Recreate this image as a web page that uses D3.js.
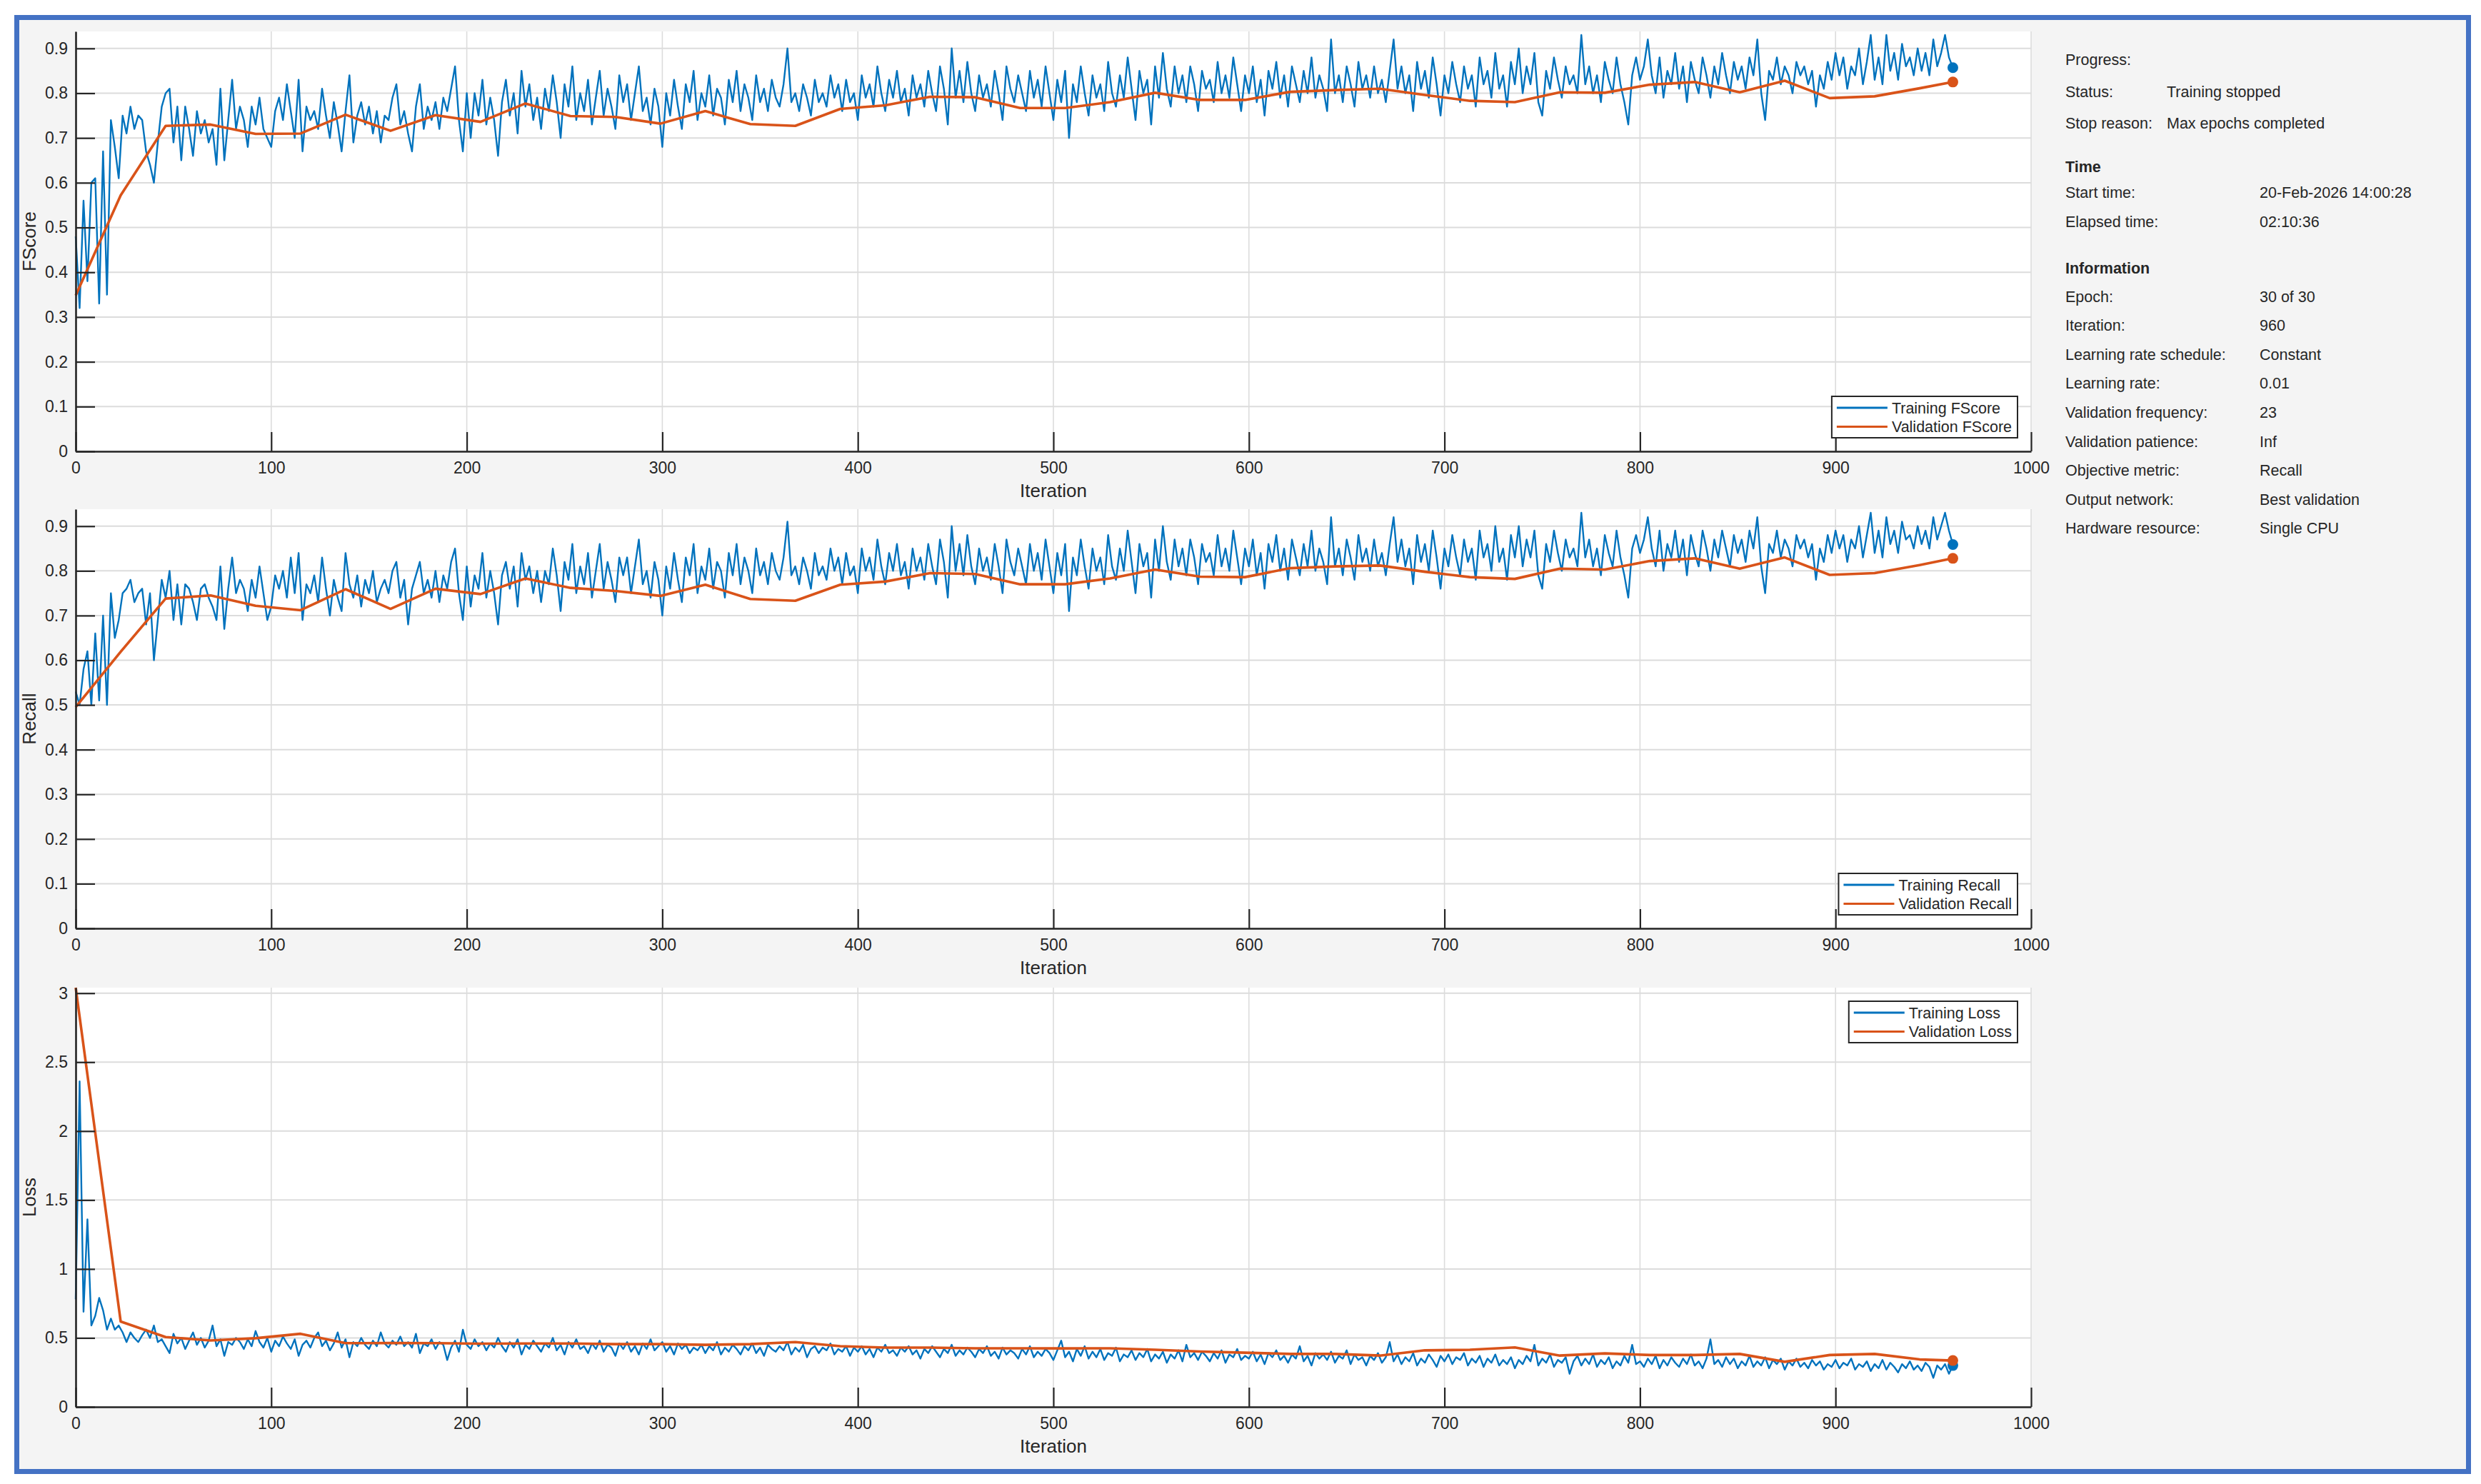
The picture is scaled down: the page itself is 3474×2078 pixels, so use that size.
<!DOCTYPE html>
<html>
<head>
<meta charset="utf-8">
<script src="https://cdn.jsdelivr.net/npm/d3@7"></script>
<style>
  body { margin: 0; background: #ffffff; }
  svg text { font-family: "Liberation Sans", Arial, sans-serif; fill: #262626; }
</style>
</head>
<body>
<script>

// ---- data (read off the training monitor) ----
// training values logged every TRAIN_STEP iterations, starting at iteration 0
var TRAIN_STEP = 2;
var VAL_FREQ = 23;
var LAST_ITER = 960;

var trainFScore = [
  0.48, 0.32, 0.56, 0.38, 0.60, 0.61, 0.33, 0.67, 0.35, 0.74,
  0.68, 0.61, 0.75, 0.71, 0.77, 0.72, 0.75, 0.74, 0.67, 0.64,
  0.60, 0.69, 0.77, 0.80, 0.81, 0.69, 0.77, 0.65, 0.77, 0.72,
  0.66, 0.76, 0.71, 0.74, 0.69, 0.72, 0.64, 0.81, 0.65, 0.74,
  0.83, 0.72, 0.77, 0.74, 0.68, 0.77, 0.73, 0.79, 0.72, 0.70,
  0.68, 0.76, 0.79, 0.74, 0.82, 0.76, 0.70, 0.83, 0.67, 0.77,
  0.74, 0.76, 0.72, 0.81, 0.75, 0.70, 0.78, 0.73, 0.67, 0.76,
  0.84, 0.69, 0.75, 0.78, 0.73, 0.77, 0.71, 0.76, 0.69, 0.75,
  0.74, 0.79, 0.82, 0.73, 0.76, 0.71, 0.67, 0.77, 0.82, 0.72,
  0.77, 0.74, 0.78, 0.72, 0.79, 0.76, 0.81, 0.86, 0.74, 0.67,
  0.80, 0.70, 0.80, 0.75, 0.83, 0.73, 0.79, 0.74, 0.66, 0.78,
  0.83, 0.75, 0.80, 0.71, 0.85, 0.77, 0.82, 0.74, 0.79, 0.72,
  0.81, 0.76, 0.84, 0.78, 0.70, 0.82, 0.77, 0.86, 0.74, 0.80,
  0.76, 0.83, 0.73, 0.79, 0.85, 0.75, 0.81, 0.77, 0.72, 0.84,
  0.78, 0.82, 0.74, 0.80, 0.86, 0.76, 0.79, 0.73, 0.81, 0.77,
  0.68, 0.80, 0.75, 0.83, 0.77, 0.72, 0.82, 0.78, 0.85, 0.74,
  0.80, 0.77, 0.84, 0.75, 0.81, 0.79, 0.73, 0.83, 0.78, 0.85,
  0.76, 0.82, 0.79, 0.74, 0.84, 0.78, 0.81, 0.76, 0.83, 0.79,
  0.77, 0.82, 0.90, 0.78, 0.80, 0.76, 0.82, 0.79, 0.75, 0.83,
  0.78, 0.80, 0.77, 0.84, 0.79, 0.82, 0.76, 0.83, 0.78, 0.80,
  0.74, 0.84, 0.79, 0.82, 0.77, 0.86, 0.80, 0.76, 0.83, 0.79,
  0.85, 0.78, 0.81, 0.75, 0.84, 0.79, 0.82, 0.77, 0.85, 0.80,
  0.76, 0.86, 0.81, 0.73, 0.90, 0.79, 0.85, 0.78, 0.87, 0.80,
  0.76, 0.84, 0.79, 0.82, 0.77, 0.85, 0.80, 0.74, 0.86, 0.81,
  0.78, 0.84, 0.80, 0.76, 0.85, 0.79, 0.83, 0.77, 0.86, 0.80,
  0.74, 0.83, 0.78, 0.85, 0.70, 0.82, 0.78, 0.86, 0.80, 0.75,
  0.84, 0.79, 0.82, 0.76, 0.87, 0.80, 0.77, 0.84, 0.79, 0.88,
  0.81, 0.74, 0.85, 0.80, 0.83, 0.73, 0.86, 0.79, 0.89, 0.81,
  0.77, 0.86, 0.80, 0.84, 0.78, 0.86, 0.82, 0.76, 0.85, 0.81,
  0.83, 0.78, 0.87, 0.80, 0.84, 0.79, 0.88, 0.82, 0.76, 0.84,
  0.80, 0.86, 0.78, 0.83, 0.75, 0.85, 0.81, 0.87, 0.79, 0.84,
  0.77, 0.86, 0.82, 0.78, 0.85, 0.80, 0.88, 0.79, 0.84, 0.81,
  0.76, 0.92, 0.80, 0.84, 0.78, 0.86, 0.82, 0.77, 0.87, 0.81,
  0.84, 0.79, 0.86, 0.80, 0.83, 0.78, 0.85, 0.92, 0.81, 0.86,
  0.80, 0.84, 0.76, 0.87, 0.81, 0.85, 0.79, 0.88, 0.82, 0.75,
  0.84, 0.80, 0.87, 0.82, 0.78, 0.86, 0.81, 0.84, 0.77, 0.88,
  0.82, 0.85, 0.79, 0.89, 0.81, 0.84, 0.77, 0.87, 0.82, 0.90,
  0.80, 0.86, 0.82, 0.89, 0.78, 0.75, 0.85, 0.81, 0.88, 0.83,
  0.79, 0.86, 0.82, 0.84, 0.80, 0.93, 0.82, 0.86, 0.80, 0.84,
  0.78, 0.87, 0.83, 0.80, 0.88, 0.82, 0.78, 0.73, 0.84, 0.88,
  0.83, 0.86, 0.92, 0.84, 0.80, 0.88, 0.79, 0.85, 0.82, 0.89,
  0.81, 0.86, 0.78, 0.87, 0.83, 0.80, 0.88, 0.84, 0.79, 0.86,
  0.82, 0.89, 0.84, 0.80, 0.87, 0.83, 0.86, 0.81, 0.88, 0.84,
  0.92, 0.80, 0.74, 0.85, 0.83, 0.88, 0.82, 0.86, 0.84, 0.80,
  0.87, 0.84, 0.86, 0.82, 0.85, 0.77, 0.84, 0.81, 0.87, 0.83,
  0.89, 0.84, 0.88, 0.81, 0.86, 0.84, 0.90, 0.82, 0.87, 0.93,
  0.83, 0.88, 0.82, 0.93, 0.85, 0.89, 0.83, 0.91, 0.86, 0.88,
  0.84, 0.90, 0.85, 0.89, 0.84, 0.92, 0.86, 0.89, 0.93, 0.88, 0.857
];

var trainRecall = [
  0.53, 0.50, 0.58, 0.62, 0.50, 0.66, 0.51, 0.70, 0.50, 0.75,
  0.65, 0.69, 0.75, 0.76, 0.78, 0.73, 0.75, 0.76, 0.68, 0.75,
  0.60, 0.69, 0.78, 0.74, 0.80, 0.69, 0.77, 0.68, 0.77, 0.76,
  0.73, 0.69, 0.76, 0.77, 0.74, 0.72, 0.69, 0.81, 0.67, 0.76,
  0.83, 0.75, 0.78, 0.76, 0.71, 0.78, 0.74, 0.81, 0.75, 0.69,
  0.72, 0.79, 0.76, 0.80, 0.74, 0.83, 0.75, 0.84, 0.69, 0.77,
  0.75, 0.79, 0.73, 0.83, 0.76, 0.70, 0.78, 0.74, 0.71, 0.84,
  0.77, 0.74, 0.79, 0.72, 0.78, 0.75, 0.80, 0.73, 0.76, 0.78,
  0.75, 0.80, 0.82, 0.74, 0.78, 0.68, 0.76, 0.79, 0.82, 0.75,
  0.78, 0.74, 0.80, 0.73, 0.79, 0.76, 0.82, 0.85, 0.75, 0.69,
  0.81, 0.72, 0.79, 0.76, 0.84, 0.74, 0.80, 0.75, 0.68, 0.79,
  0.82, 0.76, 0.81, 0.72, 0.84, 0.78, 0.81, 0.75, 0.80, 0.73,
  0.80, 0.77, 0.85, 0.79, 0.71, 0.82, 0.78, 0.86, 0.75, 0.81,
  0.77, 0.84, 0.74, 0.80, 0.86, 0.76, 0.82, 0.78, 0.73, 0.83,
  0.79, 0.83, 0.75, 0.81, 0.87, 0.77, 0.80, 0.74, 0.82, 0.78,
  0.70, 0.81, 0.76, 0.84, 0.78, 0.73, 0.83, 0.79, 0.86, 0.75,
  0.81, 0.78, 0.85, 0.76, 0.82, 0.80, 0.74, 0.84, 0.79, 0.86,
  0.77, 0.83, 0.80, 0.75, 0.85, 0.79, 0.82, 0.77, 0.84, 0.80,
  0.78, 0.83, 0.91, 0.79, 0.81, 0.77, 0.83, 0.80, 0.76, 0.84,
  0.79, 0.81, 0.78, 0.85, 0.80, 0.83, 0.77, 0.84, 0.79, 0.81,
  0.75, 0.85, 0.80, 0.83, 0.78, 0.87, 0.81, 0.77, 0.84, 0.80,
  0.86, 0.79, 0.82, 0.76, 0.85, 0.80, 0.83, 0.78, 0.86, 0.81,
  0.77, 0.87, 0.82, 0.74, 0.90, 0.80, 0.86, 0.79, 0.88, 0.81,
  0.77, 0.85, 0.80, 0.83, 0.78, 0.86, 0.81, 0.75, 0.87, 0.82,
  0.79, 0.85, 0.81, 0.77, 0.86, 0.80, 0.84, 0.78, 0.87, 0.81,
  0.75, 0.84, 0.79, 0.86, 0.71, 0.83, 0.79, 0.87, 0.81, 0.76,
  0.85, 0.80, 0.83, 0.77, 0.88, 0.81, 0.78, 0.85, 0.80, 0.89,
  0.82, 0.75, 0.86, 0.81, 0.84, 0.74, 0.87, 0.80, 0.90, 0.82,
  0.78, 0.87, 0.81, 0.85, 0.79, 0.87, 0.83, 0.77, 0.86, 0.82,
  0.84, 0.79, 0.88, 0.81, 0.85, 0.80, 0.89, 0.83, 0.77, 0.85,
  0.81, 0.87, 0.79, 0.84, 0.76, 0.86, 0.82, 0.88, 0.80, 0.85,
  0.78, 0.87, 0.83, 0.79, 0.86, 0.81, 0.89, 0.80, 0.85, 0.82,
  0.77, 0.92, 0.81, 0.85, 0.79, 0.87, 0.83, 0.78, 0.88, 0.82,
  0.85, 0.80, 0.87, 0.81, 0.84, 0.79, 0.86, 0.92, 0.82, 0.87,
  0.81, 0.85, 0.77, 0.88, 0.82, 0.86, 0.80, 0.89, 0.83, 0.76,
  0.85, 0.81, 0.88, 0.83, 0.79, 0.87, 0.82, 0.85, 0.78, 0.89,
  0.83, 0.86, 0.80, 0.90, 0.82, 0.85, 0.78, 0.88, 0.83, 0.90,
  0.81, 0.87, 0.83, 0.89, 0.79, 0.76, 0.86, 0.82, 0.89, 0.84,
  0.80, 0.87, 0.83, 0.85, 0.81, 0.93, 0.83, 0.87, 0.81, 0.85,
  0.79, 0.88, 0.84, 0.81, 0.89, 0.83, 0.79, 0.74, 0.85, 0.88,
  0.84, 0.87, 0.92, 0.85, 0.81, 0.89, 0.80, 0.86, 0.83, 0.89,
  0.82, 0.87, 0.79, 0.88, 0.84, 0.81, 0.89, 0.85, 0.80, 0.87,
  0.83, 0.89, 0.85, 0.81, 0.88, 0.84, 0.87, 0.82, 0.89, 0.85,
  0.92, 0.81, 0.75, 0.86, 0.84, 0.89, 0.83, 0.87, 0.85, 0.81,
  0.88, 0.85, 0.87, 0.83, 0.86, 0.78, 0.85, 0.82, 0.88, 0.84,
  0.89, 0.85, 0.88, 0.82, 0.87, 0.85, 0.90, 0.83, 0.88, 0.93,
  0.84, 0.89, 0.83, 0.92, 0.86, 0.89, 0.84, 0.91, 0.87, 0.88,
  0.85, 0.90, 0.86, 0.89, 0.85, 0.92, 0.87, 0.90, 0.93, 0.89, 0.859
];

var trainLoss = [
  0.78, 2.36, 0.69, 1.36, 0.59, 0.66, 0.79, 0.70, 0.56, 0.64,
  0.56, 0.59, 0.54, 0.47, 0.54, 0.50, 0.47, 0.52, 0.56, 0.50,
  0.59, 0.47, 0.49, 0.44, 0.39, 0.53, 0.46, 0.50, 0.42, 0.48,
  0.54, 0.45, 0.50, 0.43, 0.48, 0.59, 0.44, 0.49, 0.37, 0.47,
  0.45, 0.50, 0.47, 0.42, 0.49, 0.44, 0.55, 0.47, 0.43, 0.50,
  0.40, 0.48, 0.44, 0.51, 0.46, 0.42, 0.49, 0.37, 0.45, 0.48,
  0.43, 0.50, 0.54, 0.44, 0.48, 0.41, 0.46, 0.54, 0.43, 0.49,
  0.36, 0.47, 0.44, 0.50, 0.45, 0.42, 0.48, 0.44, 0.54, 0.46,
  0.43, 0.48, 0.45, 0.51, 0.44, 0.47, 0.43, 0.53, 0.39, 0.46,
  0.44, 0.49, 0.42, 0.47, 0.45, 0.34, 0.43, 0.48, 0.40, 0.56,
  0.45, 0.42, 0.49, 0.44, 0.47, 0.41, 0.46, 0.43, 0.50, 0.44,
  0.40, 0.47, 0.43, 0.49, 0.38, 0.45, 0.42, 0.48, 0.44, 0.40,
  0.46, 0.43, 0.50, 0.41, 0.45, 0.38, 0.47, 0.43, 0.49, 0.42,
  0.44, 0.39, 0.46, 0.42, 0.48, 0.40, 0.45, 0.43, 0.37, 0.46,
  0.42, 0.47, 0.40, 0.44, 0.38, 0.46, 0.42, 0.49, 0.41, 0.44,
  0.47, 0.40, 0.44, 0.38, 0.46, 0.42, 0.45, 0.39, 0.43, 0.41,
  0.45, 0.39, 0.44, 0.41, 0.47, 0.38, 0.43, 0.40, 0.45, 0.42,
  0.38, 0.44, 0.41, 0.46, 0.39, 0.43, 0.37, 0.45, 0.42, 0.40,
  0.44, 0.41, 0.47, 0.38, 0.43, 0.40, 0.45, 0.36, 0.42, 0.44,
  0.39, 0.43, 0.41, 0.46, 0.38, 0.42, 0.40, 0.44, 0.37, 0.43,
  0.40, 0.44, 0.38, 0.42, 0.36, 0.43, 0.40, 0.45, 0.39, 0.41,
  0.37, 0.43, 0.40, 0.44, 0.38, 0.41, 0.35, 0.42, 0.39, 0.44,
  0.40, 0.36, 0.42, 0.39, 0.45, 0.37, 0.41, 0.38, 0.43, 0.40,
  0.36, 0.42, 0.39, 0.44, 0.37, 0.40, 0.35, 0.43, 0.38, 0.41,
  0.39, 0.35, 0.42, 0.38, 0.44, 0.36, 0.40, 0.37, 0.42, 0.39,
  0.34, 0.41, 0.48, 0.36, 0.40, 0.33, 0.42, 0.37, 0.44, 0.35,
  0.40, 0.36, 0.42, 0.34, 0.39, 0.37, 0.43, 0.33, 0.38, 0.36,
  0.41, 0.34, 0.39, 0.36, 0.42, 0.33, 0.38, 0.35, 0.40, 0.32,
  0.38, 0.35, 0.41, 0.33, 0.45, 0.36, 0.39, 0.34, 0.40, 0.37,
  0.33, 0.39, 0.35, 0.41, 0.32, 0.38, 0.36, 0.42, 0.34, 0.37,
  0.35, 0.40, 0.33, 0.38, 0.31, 0.39, 0.36, 0.41, 0.34, 0.37,
  0.32, 0.38, 0.35, 0.44, 0.33, 0.37, 0.30, 0.39, 0.35, 0.38,
  0.34, 0.40, 0.32, 0.37, 0.35, 0.41, 0.31, 0.38, 0.34, 0.36,
  0.30, 0.37, 0.34, 0.39, 0.32, 0.36, 0.47, 0.33, 0.38, 0.31,
  0.36, 0.33, 0.39, 0.30, 0.35, 0.32, 0.38, 0.34, 0.29, 0.37,
  0.33, 0.38, 0.31, 0.36, 0.34, 0.39, 0.30, 0.35, 0.32, 0.37,
  0.29, 0.35, 0.32, 0.38, 0.30, 0.34, 0.31, 0.36, 0.28, 0.34,
  0.31, 0.37, 0.33, 0.45, 0.30, 0.35, 0.32, 0.38, 0.29, 0.34,
  0.32, 0.36, 0.24, 0.33, 0.37, 0.30, 0.35, 0.31, 0.38, 0.29,
  0.34, 0.31, 0.36, 0.28, 0.33, 0.30, 0.37, 0.32, 0.45, 0.31,
  0.33, 0.29, 0.35, 0.31, 0.37, 0.28, 0.34, 0.30, 0.36, 0.32,
  0.29, 0.35, 0.31, 0.38, 0.30, 0.33, 0.28, 0.35, 0.49, 0.31,
  0.34, 0.29, 0.36, 0.31, 0.35, 0.28, 0.33, 0.30, 0.37, 0.29,
  0.33, 0.30, 0.36, 0.28, 0.34, 0.31, 0.35, 0.27, 0.33, 0.30,
  0.35, 0.29, 0.32, 0.28, 0.34, 0.30, 0.33, 0.27, 0.31, 0.29,
  0.34, 0.28, 0.32, 0.30, 0.35, 0.27, 0.31, 0.29, 0.33, 0.26,
  0.31, 0.28, 0.34, 0.27, 0.32, 0.29, 0.25, 0.31, 0.28, 0.33,
  0.27, 0.30, 0.26, 0.32, 0.29, 0.21, 0.30, 0.27, 0.31, 0.24, 0.30
];

// validation points at iterations 0, 23, 46, ... 943, then the final iteration 960
var valFScore = [
  0.348, 0.572, 0.727, 0.730, 0.709, 0.710, 0.752, 0.716, 0.751, 0.736,
  0.777, 0.749, 0.747, 0.732, 0.760, 0.731, 0.727, 0.765, 0.773, 0.792,
  0.791, 0.767, 0.767, 0.780, 0.801, 0.785, 0.785, 0.803, 0.807, 0.810,
  0.796, 0.783, 0.780, 0.802, 0.801, 0.819, 0.825, 0.802, 0.828, 0.789,
  0.793, 0.811, 0.825
];
var valRecall = [
  0.495, 0.619, 0.738, 0.745, 0.722, 0.712, 0.759, 0.715, 0.760, 0.748,
  0.783, 0.762, 0.755, 0.744, 0.769, 0.737, 0.733, 0.769, 0.776, 0.795,
  0.793, 0.770, 0.770, 0.783, 0.803, 0.787, 0.786, 0.806, 0.810, 0.812,
  0.798, 0.786, 0.782, 0.805, 0.803, 0.822, 0.828, 0.805, 0.830, 0.791,
  0.795, 0.813, 0.828
];
var valLoss = [
  3.04, 0.619, 0.506, 0.482, 0.498, 0.530, 0.462, 0.463, 0.462, 0.458,
  0.460, 0.460, 0.455, 0.455, 0.450, 0.455, 0.470, 0.440, 0.430, 0.430,
  0.425, 0.425, 0.424, 0.425, 0.414, 0.401, 0.393, 0.384, 0.384, 0.372,
  0.410, 0.414, 0.431, 0.372, 0.388, 0.376, 0.376, 0.384, 0.327, 0.376,
  0.384, 0.344, 0.336
];

var xTicks = [0, 100, 200, 300, 400, 500, 600, 700, 800, 900, 1000];
var scoreTicks = [0, 0.1, 0.2, 0.3, 0.4, 0.5, 0.6, 0.7, 0.8, 0.9];
var lossTicks = [0, 0.5, 1, 1.5, 2, 2.5, 3];

var progressLabels = ["Status:", "Stop reason:"];
var progressValues = ["Training stopped", "Max epochs completed"];
var timeLabels = ["Start time:", "Elapsed time:"];
var timeValues = ["20-Feb-2026 14:00:28", "02:10:36"];
var infoLabels = ["Epoch:", "Iteration:", "Learning rate schedule:", "Learning rate:",
  "Validation frequency:", "Validation patience:", "Objective metric:",
  "Output network:", "Hardware resource:"];
var infoValues = ["30 of 30", "960", "Constant", "0.01", "23", "Inf", "Recall",
  "Best validation", "Single CPU"];

// ---- drawing ----
var BLUE = "#0072BD", ORANGE = "#D95319", INK = "#262626";

var valIter = d3.range(0, LAST_ITER, VAL_FREQ).concat([LAST_ITER]);

var svg = d3.select("body")
    .append("svg")
    .attr("width", 3474)
    .attr("height", 2078);

// window frame
svg.append("rect")
    .attr("x", 23.5).attr("y", 24.5)
    .attr("width", 3433).attr("height", 2036)
    .attr("fill", "#f4f4f4")
    .attr("stroke", "#4472C4")
    .attr("stroke-width", 7);

var x0 = 106, x1 = 2844;

var panels = [
  { top: 44, bottom: 632, yMax: 0.938, ticks: scoreTicks, label: "FScore",
    train: trainFScore, val: valFScore,
    names: ["Training FScore", "Validation FScore"], legendAt: "bottom" },
  { top: 713, bottom: 1300, yMax: 0.938, ticks: scoreTicks, label: "Recall",
    train: trainRecall, val: valRecall,
    names: ["Training Recall", "Validation Recall"], legendAt: "bottom" },
  { top: 1383, bottom: 1970, yMax: 3.04, ticks: lossTicks, label: "Loss",
    train: trainLoss, val: valLoss,
    names: ["Training Loss", "Validation Loss"], legendAt: "top" }
];

var x = d3.scaleLinear().domain([0, 1000]).range([x0, x1]);

panels.forEach(function(p) {
    var y = d3.scaleLinear().domain([0, p.yMax]).range([p.bottom, p.top]);
    var g = svg.append("g");

    g.append("rect")
        .attr("x", x0).attr("y", p.top)
        .attr("width", x1 - x0).attr("height", p.bottom - p.top)
        .attr("fill", "#ffffff");

    // grid
    g.selectAll(".gx").data(xTicks).enter().append("line")
        .attr("x1", d => x(d)).attr("x2", d => x(d))
        .attr("y1", p.top).attr("y2", p.bottom)
        .attr("stroke", "#dcdcdc").attr("stroke-width", 1.6);
    g.selectAll(".gy").data(p.ticks).enter().append("line")
        .attr("x1", x0).attr("x2", x1)
        .attr("y1", d => y(d)).attr("y2", d => y(d))
        .attr("stroke", "#dcdcdc").attr("stroke-width", 2);

    // series
    var trainLine = d3.line()
        .x((d, i) => x(Math.min(i * TRAIN_STEP, LAST_ITER)))
        .y(d => y(d));
    var valLine = d3.line()
        .x((d, i) => x(valIter[i]))
        .y(d => y(d));

    g.append("path").datum(p.train)
        .attr("d", trainLine)
        .attr("fill", "none").attr("stroke", BLUE)
        .attr("stroke-width", 2.4).attr("stroke-linejoin", "round");
    g.append("path").datum(p.val)
        .attr("d", valLine)
        .attr("fill", "none").attr("stroke", ORANGE)
        .attr("stroke-width", 3.6).attr("stroke-linejoin", "round");

    g.append("circle")
        .attr("cx", x(LAST_ITER)).attr("cy", y(p.train[p.train.length - 1]))
        .attr("r", 7.5).attr("fill", BLUE);
    g.append("circle")
        .attr("cx", x(LAST_ITER)).attr("cy", y(p.val[p.val.length - 1]))
        .attr("r", 7.5).attr("fill", ORANGE);

    // axes
    var ax = g.append("g")
        .attr("transform", "translate(0," + p.bottom + ")")
        .call(d3.axisBottom(x).tickValues(xTicks).tickSizeInner(-27).tickSizeOuter(0).tickPadding(15)
            .tickFormat(d3.format("d")));
    var ay = g.append("g")
        .attr("transform", "translate(" + x0 + ",0)")
        .call(d3.axisLeft(y).tickValues(p.ticks).tickSizeInner(-27).tickSizeOuter(0).tickPadding(11)
            .tickFormat(d => String(+d.toFixed(1))));
    [ax, ay].forEach(function(a) {
        a.select(".domain").attr("stroke", INK).attr("stroke-width", 2.6);
        a.selectAll(".tick line").attr("stroke", INK).attr("stroke-width", 2.2);
        a.selectAll(".tick text").attr("font-size", 23).attr("fill", INK)
            .style("font-family", "'Liberation Sans', Arial, sans-serif");
    });

    g.append("text")
        .attr("x", (x0 + x1) / 2).attr("y", p.bottom + 64)
        .attr("text-anchor", "middle")
        .attr("font-size", 26)
        .text("Iteration");
    g.append("text")
        .attr("transform", "translate(50," + ((p.top + p.bottom) / 2) + ") rotate(-90)")
        .attr("text-anchor", "middle")
        .attr("font-size", 26)
        .text(p.label);

    // legend
    var lg = g.append("g");
    var box = lg.append("rect").attr("fill", "#ffffff")
        .attr("stroke", INK).attr("stroke-width", 2);
    var texts = lg.selectAll("text").data(p.names).enter().append("text")
        .attr("font-size", 21.5)
        .attr("dy", "0.35em")
        .text(d => d);
    var tw = d3.max(texts.nodes(), n => n.getComputedTextLength());
    var bw = 7 + 71 + 6 + tw + 8, bh = 58;
    var bx = x1 - 19 - bw;
    var by = p.legendAt === "bottom" ? p.bottom - 19 - bh : p.top + 19;
    box.attr("x", bx).attr("y", by).attr("width", bw).attr("height", bh);
    texts.attr("x", bx + 84).attr("y", (d, i) => by + 16 + i * 26.5);
    lg.selectAll("line").data([BLUE, ORANGE]).enter().append("line")
        .attr("x1", bx + 7).attr("x2", bx + 78)
        .attr("y1", (d, i) => by + 16 + i * 26.5)
        .attr("y2", (d, i) => by + 16 + i * 26.5)
        .attr("stroke", d => d).attr("stroke-width", 3.2);
});

// info panel on the right
var px = 2892;
function row(label, value, yy, vx, bold) {
    svg.append("text").attr("x", px).attr("y", yy).attr("dy", "0.35em")
        .attr("font-size", 21.5).attr("font-weight", bold ? "bold" : "normal")
        .attr("fill", "#1f1f1f").text(label);
    if (value !== null) {
        svg.append("text").attr("x", vx).attr("y", yy).attr("dy", "0.35em")
            .attr("font-size", 21.5).attr("fill", "#1f1f1f").text(value);
    }
}
row("Progress:", null, 83);
progressLabels.forEach((l, i) => row(l, progressValues[i], 128 + i * 44.7, 3034));
row("Time", null, 233, 0, true);
timeLabels.forEach((l, i) => row(l, timeValues[i], 269 + i * 41, 3164));
row("Information", null, 375, 0, true);
infoLabels.forEach((l, i) => row(l, infoValues[i], 415 + i * 40.6, 3164));

</script>
</body>
</html>
